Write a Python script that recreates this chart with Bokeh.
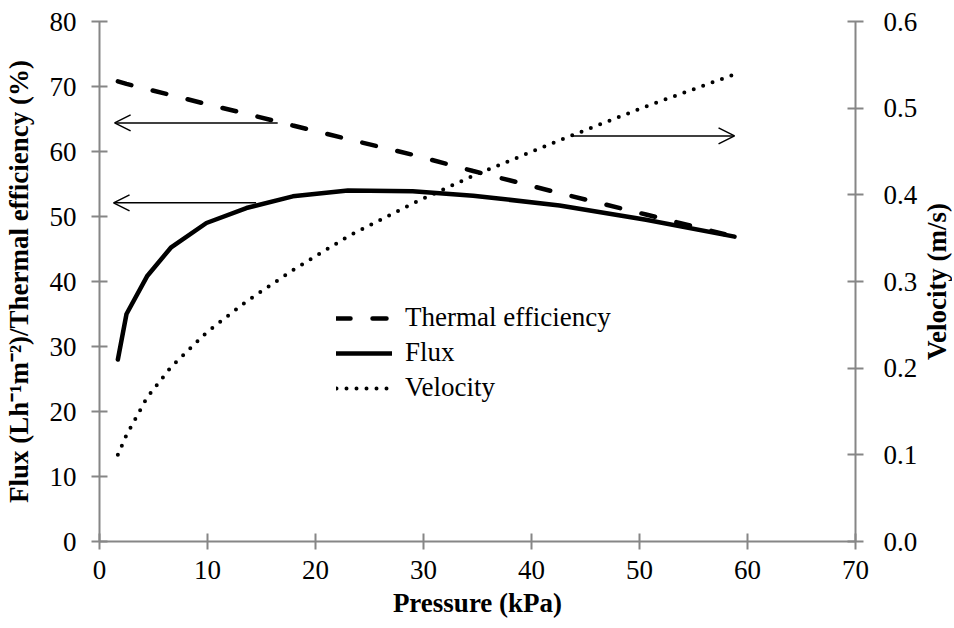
import math
from bokeh.plotting import figure
from bokeh.layouts import row
from bokeh.core.properties import value
from bokeh.models import (LinearAxis, Range1d, Legend, LegendItem, Arrow, OpenHead,
                          FixedTicker, NumeralTickFormatter, ColumnDataSource)
from bokeh.embed import file_html
from bokeh.resources import INLINE

# ---- data ----
pressure = [1.7, 2.5, 4.4, 6.6, 9.9, 13.6, 17.9, 23.0, 29.0, 34.6, 42.6, 50.6, 58.8]
flux = [28.0, 35.0, 40.8, 45.2, 49.0, 51.3, 53.1, 54.0, 53.9, 53.2, 51.7, 49.5, 46.9]
thermal = [70.8, 70.4, 69.6, 68.7, 67.3, 65.8, 64.0, 61.9, 59.5, 57.0, 53.6, 50.3, 46.9]
velocity = [0.100, 0.123, 0.166, 0.201, 0.241, 0.277, 0.313, 0.352, 0.390, 0.422, 0.463, 0.502, 0.539]

series_names = ["Thermal efficiency", "Flux", "Velocity"]

arrow_x_start = [16.5, 14.5, 43.8]
arrow_x_end = [1.4, 1.3, 58.8]
arrow_y = [64.4, 52.1, 0.468]
arrow_axis = ["default", "default", "v"]

x_ticks = [0, 10, 20, 30, 40, 50, 60, 70]
y_ticks = [0, 10, 20, 30, 40, 50, 60, 70, 80]
v_ticks = [0.0, 0.1, 0.2, 0.3, 0.4, 0.5, 0.6]

x_label = "Pressure (kPa)"
y_label = "Flux (Lh\u207b\u00b9m\u207b\u00b2)/Thermal efficiency (%)"
v_label = "Velocity (m/s)"

FONT = "Liberation Serif"
AXIS_COLOR = "#868686"
FS = "27px"

src = ColumnDataSource(dict(p=pressure, f=flux, t=thermal, v=velocity))

p = figure(width=920, height=626, output_backend="svg", toolbar_location=None,
           x_range=Range1d(0, 70), y_range=Range1d(0, 80),
           min_border_left=99, min_border_right=65, min_border_top=21, min_border_bottom=85)
p.extra_y_ranges = {"v": Range1d(0, 0.6)}
p.outline_line_color = None
p.xgrid.visible = False
p.ygrid.visible = False
p.background_fill_color = "white"
p.border_fill_color = "white"

r_t = p.line("p", "t", source=src, line_color="black", line_width=4.5,
             line_dash="14 22", line_cap="round")
r_f = p.line("p", "f", source=src, line_color="black", line_width=4.5,
             line_join="round", line_cap="round")
r_v = p.line("p", "v", source=src, line_color="black", line_width=4,
             line_dash="0 10", line_cap="round", y_range_name="v")

right = LinearAxis(y_range_name="v")
p.add_layout(right, "right")

def style(ax, ticks, label):
    ax.ticker = FixedTicker(ticks=ticks)
    ax.axis_line_color = AXIS_COLOR
    ax.axis_line_width = 2
    ax.major_tick_line_color = AXIS_COLOR
    ax.major_tick_line_width = 2
    ax.major_tick_in = 8
    ax.major_tick_out = 8
    ax.minor_tick_line_color = None
    ax.major_label_text_font = FONT
    ax.major_label_text_font_size = FS
    ax.major_label_text_color = "black"
    if label:
        ax.axis_label = label
        ax.axis_label_text_font = FONT
        ax.axis_label_text_font_size = FS
        ax.axis_label_text_font_style = "bold"
        ax.axis_label_text_color = "black"

style(p.xaxis[0], x_ticks, x_label)
style(p.yaxis[0], y_ticks, y_label)
style(right, v_ticks, None)
right.formatter = NumeralTickFormatter(format="0.0")
p.xaxis[0].major_label_standoff = 11
p.xaxis[0].axis_label_standoff = 6
p.yaxis[0].major_label_standoff = 15
p.yaxis[0].axis_label_standoff = 13
right.major_label_standoff = 20

for xs, xe, y, ax in zip(arrow_x_start, arrow_x_end, arrow_y, arrow_axis):
    p.add_layout(Arrow(end=OpenHead(size=16, line_width=1.5, line_color="black"),
                       x_start=xs, y_start=y, x_end=xe, y_end=y,
                       line_width=1.5, line_color="black", y_range_name=ax))

legend = Legend(items=[LegendItem(label=series_names[0], renderers=[r_t]),
                       LegendItem(label=series_names[1], renderers=[r_f]),
                       LegendItem(label=series_names[2], renderers=[r_v])],
                location=(237, 138), border_line_color=None, background_fill_alpha=0,
                label_text_font=FONT, label_text_font_size=FS, label_text_color="black",
                glyph_width=56, glyph_height=30, label_height=30, spacing=4,
                label_standoff=13, padding=0, margin=0)
p.add_layout(legend, "center")

# narrow strip holding the right-hand axis title, reading bottom-to-top
p2 = figure(width=32, height=626, output_backend="svg", toolbar_location=None,
            x_range=Range1d(0, 1), y_range=Range1d(0, 80),
            x_axis_location=None, y_axis_location=None,
            min_border_left=0, min_border_right=0, min_border_top=21, min_border_bottom=85)
p2.outline_line_color = None
p2.xgrid.visible = False
p2.ygrid.visible = False
p2.background_fill_color = "white"
p2.border_fill_color = "white"
p2.text(x=[0.5], y=[40], text=[v_label], angle=math.pi / 2,
        text_align="center", text_baseline="middle",
        text_font=value(FONT), text_font_size=FS, text_font_style="bold",
        text_color="black")

layout = row(p, p2)
open("out.html", "w").write(file_html(layout, INLINE))
